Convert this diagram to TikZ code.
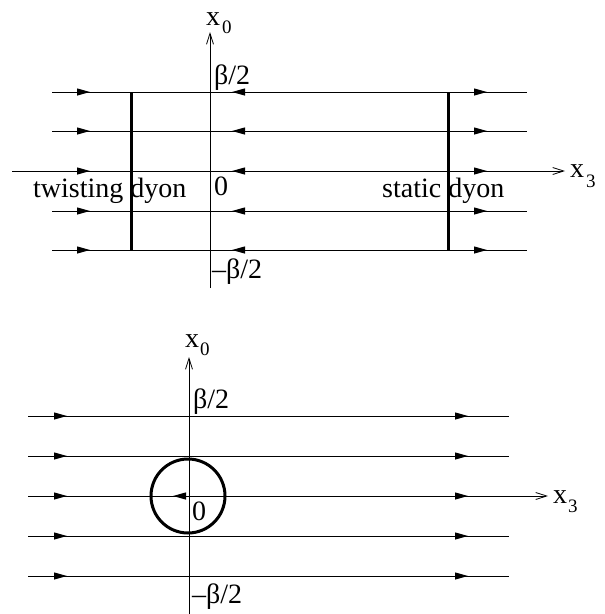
\documentclass[tikz,border=0pt]{standalone}
\usepackage{fontspec}
\setmainfont{Liberation Serif}
\usetikzlibrary{arrows.meta}
\begin{document}
\begin{tikzpicture}[x=1pt,y=-1pt,
  flux/.style={line width=1pt},
  dyonline/.style={line width=3pt},
  axisline/.style={line width=0.8pt,-{Straight Barb[length=11pt,width=7pt,line width=0.8pt]}},
  fhead/.style={line width=1pt,-{Triangle[length=13pt,width=7pt]}},
  lbl/.style={anchor=base west,inner sep=0pt,font=\fontsize{28}{28}\selectfont},
  sublbl/.style={anchor=base west,inner sep=0pt,font=\fontsize{19}{19}\selectfont}]
\useasboundingbox (0,0) rectangle (605,614);

% ===== Top diagram =====
\coordinate (tA0) at (210,288);
\coordinate (tA1) at (210,32);
\coordinate (tH0) at (12,171);
\coordinate (tH1) at (565,171);
\foreach \y in {92,131,211,250}{
  \draw[flux] (52,\y) -- (527,\y);
}
\draw[axisline] (tH0) -- (tH1);
\draw[axisline] (tA0) -- (tA1);
\foreach \y in {92,131,171,211,250}{
  \draw[fhead] (76,\y) -- (90,\y);
  \draw[fhead] (246,\y) -- (232,\y);
  \draw[fhead] (473,\y) -- (487,\y);
}
\coordinate (tdL0) at (131,92);
\coordinate (tdL1) at (131,250);
\coordinate (tdR0) at (448,92);
\coordinate (tdR1) at (448,250);
\draw[dyonline] (tdL0) -- (tdL1);
\draw[dyonline] (tdR0) -- (tdR1);

\node[lbl] (tx0) at (206,25) {x};
\node[sublbl] (tx0s) at (222,33) {0};
\node[lbl] (tx3) at (570,177) {x};
\node[sublbl] (tx3s) at (586,187) {3};
\node[lbl] (tb) at (214,84) {β/2};
\node[lbl] (tz) at (214,195) {0};
\node[lbl] (tmb) at (212,278) {–β/2};
\node[lbl] (ttw) at (33,197) {twisting dyon};
\node[lbl] (tst) at (382,197) {static dyon};

% ===== Bottom diagram =====
\coordinate (bA0) at (189,614);
\coordinate (bA1) at (189,357);
\coordinate (bH0) at (28,496);
\coordinate (bH1) at (548,496);
\foreach \y in {416,456,536,576}{
  \draw[flux] (28,\y) -- (509,\y);
}
\draw[axisline] (bH0) -- (bH1);
\draw[axisline] (bA0) -- (bA1);
\foreach \y in {416,456,496,536,576}{
  \draw[fhead] (53,\y) -- (67,\y);
  \draw[fhead] (454,\y) -- (468,\y);
}
\draw[fhead] (189,496) -- (173,496);
\node[draw,circle,line width=3pt,minimum size=74pt,inner sep=0pt] (bc) at (188,496) {};

\node[lbl] (bx0) at (185,347) {x};
\node[sublbl] (bx0s) at (200,355) {0};
\node[lbl] (bx3) at (553,503) {x};
\node[sublbl] (bx3s) at (568,512) {3};
\node[lbl] (bb) at (193,408) {β/2};
\node[lbl] (bz) at (192,520) {0};
\node[lbl] (bmb) at (192,603) {–β/2};
\end{tikzpicture}
\end{document}
